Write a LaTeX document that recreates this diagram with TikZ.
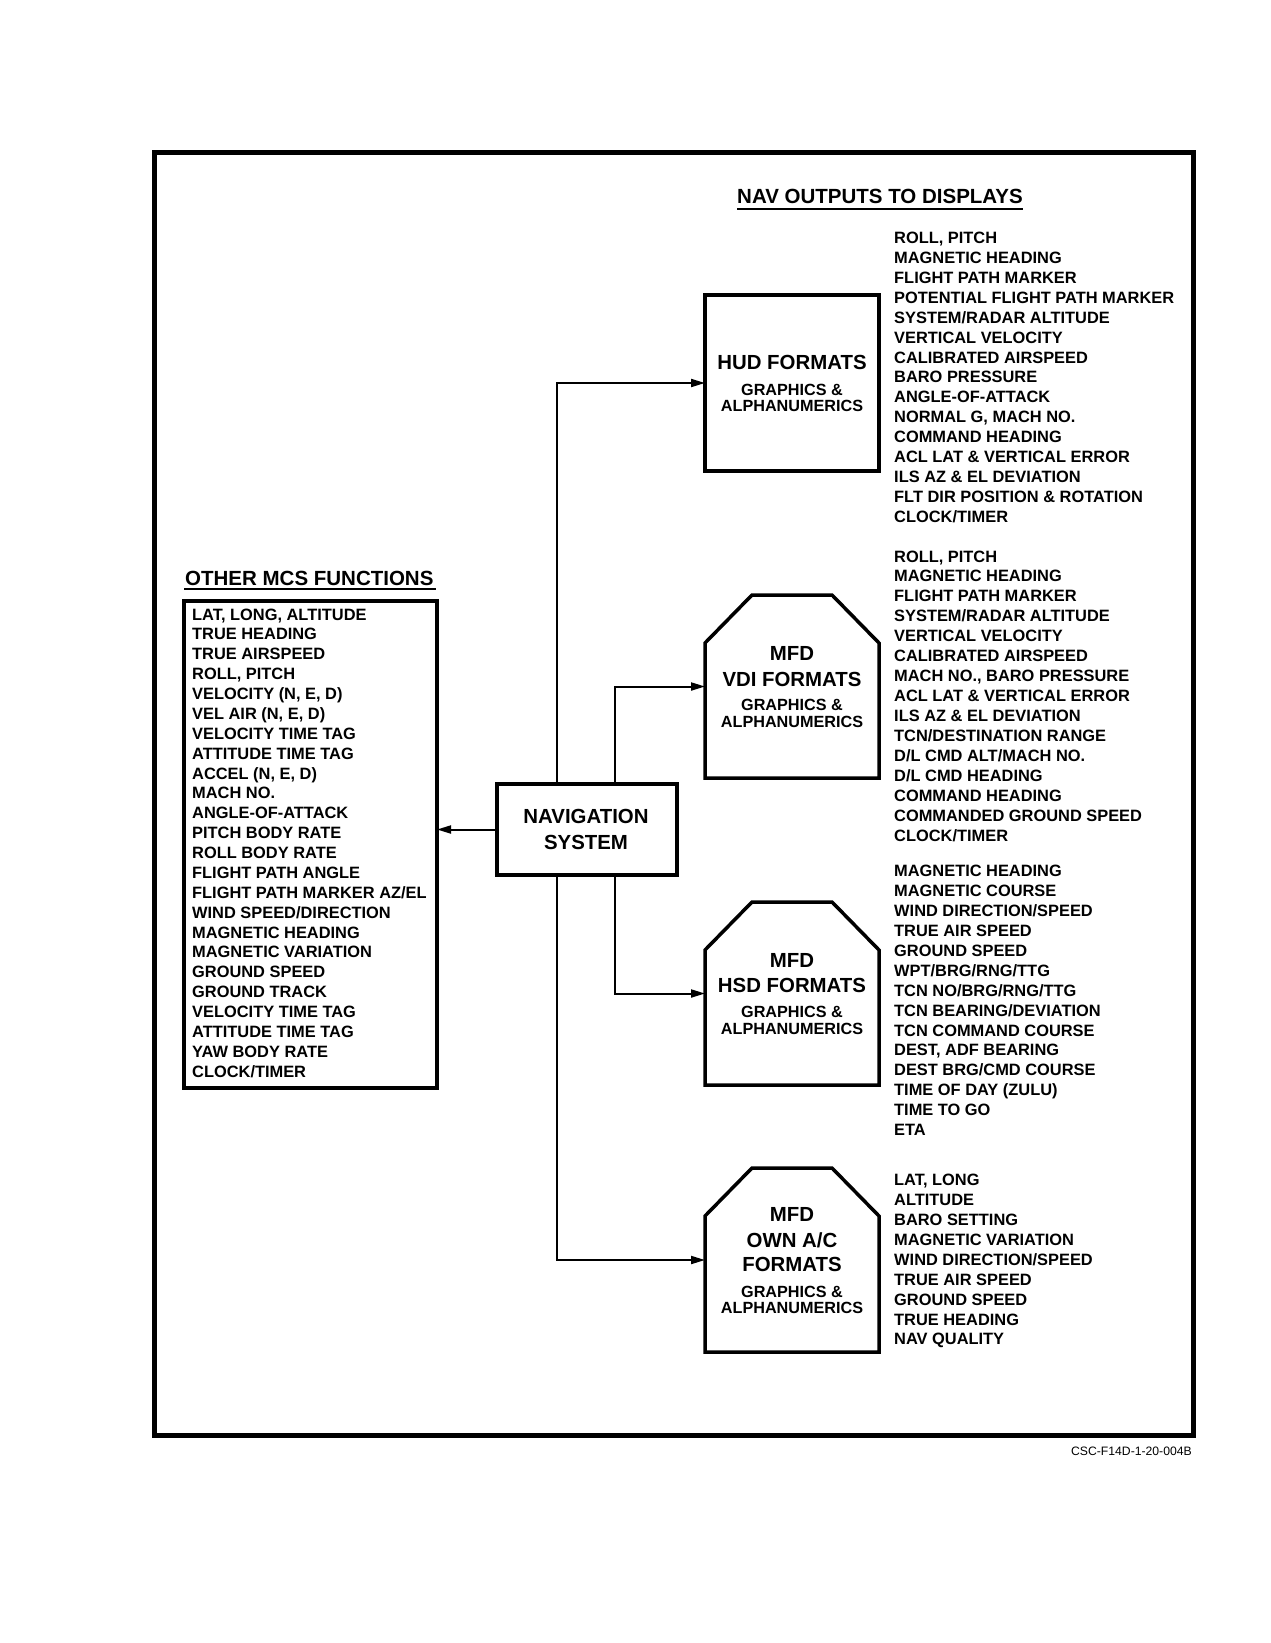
\documentclass[tikz,border=0pt]{standalone}
\usepackage{fontspec}
\setmainfont{Liberation Sans}
\usetikzlibrary{arrows.meta,calc}
\newcommand{\listf}{\fontsize{16.4pt}{19.9pt}\selectfont\bfseries}
\newcommand{\bigf}{\fontsize{20.4pt}{25pt}\selectfont\bfseries}
\newcommand{\smlf}{\fontsize{16.2pt}{17pt}\selectfont\bfseries}
\newcommand{\ttlf}{\fontsize{20.5pt}{25pt}\selectfont\bfseries}
\newcommand{\codef}{\fontsize{12.2pt}{14pt}\selectfont}
\begin{document}
\begin{tikzpicture}[x=1pt,y=-1pt,
  boxnode/.style={draw, line width=3.5pt, fill=white, inner sep=0pt, outer sep=0pt},
  mfdnode/.style={inner sep=0pt, outer sep=0pt, minimum width=174pt},
  mfdline/.style={line width=3.5pt, line join=miter},
  conn/.style={line width=2pt, -{Triangle[length=14pt,width=8pt]}},
  lst/.style={anchor=base west, inner sep=0pt, font=\listf},
  big/.style={anchor=base, inner sep=0pt, font=\bigf},
  sml/.style={anchor=base, inner sep=0pt, font=\smlf},
  ttl/.style={anchor=base west, inner sep=0pt, font=\ttlf},
  uline/.style={line width=2pt}]
\useasboundingbox (0,0) rectangle (1270,1643);
\fill[white] (0,0) rectangle (1270,1643);

% outer frame
\node[draw, line width=5pt, inner sep=0pt, outer sep=0pt,
      minimum width=1039pt, minimum height=1282.5pt] (frame) at (673.5,793.75) {};

% titles
\node[ttl] (navtitle) at (737,203.3) {NAV OUTPUTS TO DISPLAYS};
\draw[uline] ($(navtitle.base west)+(0,5.7)$) -- ($(navtitle.base east)+(0,5.7)$);
\node[ttl] (mcstitle) at (185,585) {OTHER MCS FUNCTIONS};
\draw[uline] ($(mcstitle.base west)+(-1,3.7)$) -- ($(mcstitle.base east)+(2,3.7)$);

% boxes
\node[boxnode, minimum width=174pt, minimum height=176pt] (hud) at (792,383) {};
\node[boxnode, minimum width=180pt, minimum height=91pt] (nav) at (587,829.5) {};
\node[boxnode, minimum width=253pt, minimum height=487pt] (mcs) at (310.5,844.5) {};

\node[mfdnode, minimum height=183pt] (vdi) at (792,686.5) {};
\node[mfdnode, minimum height=183pt] (hsd) at (792,993.5) {};
\node[mfdnode, minimum height=184pt] (own) at (792,1260) {};
\foreach \n in {vdi,hsd,own}{
  \draw[mfdline] (\n.south west) -- ($(\n.north west)+(0,48)$) -- ($(\n.north west)+(47,0)$)
    -- ($(\n.north east)+(-47,0)$) -- ($(\n.north east)+(0,48)$) -- (\n.south east) -- cycle;
}

% box texts
\node[big] (hudt1) at (792,369) {HUD FORMATS};
\node[sml] (hudt2) at (792,395) {GRAPHICS \&};
\node[sml] (hudt3) at (792,411.5) {ALPHANUMERICS};

\node[big] (vdit1) at (792,660.7) {MFD};
\node[big] (vdit2) at (792,686) {VDI FORMATS};
\node[sml] (vdit3) at (792,710.7) {GRAPHICS \&};
\node[sml] (vdit4) at (792,727.3) {ALPHANUMERICS};

\node[big] (hsdt1) at (792,967.3) {MFD};
\node[big] (hsdt2) at (792,992.7) {HSD FORMATS};
\node[sml] (hsdt3) at (792,1017.7) {GRAPHICS \&};
\node[sml] (hsdt4) at (792,1034.3) {ALPHANUMERICS};

\node[big] (ownt1) at (792,1221.7) {MFD};
\node[big] (ownt2) at (792,1247.3) {OWN A/C};
\node[big] (ownt3) at (792,1271.7) {FORMATS};
\node[sml] (ownt4) at (792,1297.3) {GRAPHICS \&};
\node[sml] (ownt5) at (792,1313.3) {ALPHANUMERICS};

\node[big] (navt1) at (586,823.3) {NAVIGATION};
\node[big] (navt2) at (586,849.3) {SYSTEM};

% connectors
\coordinate (na) at ($(nav.north west)+(60,0)$);
\coordinate (nb) at ($(nav.north west)+(118,0)$);
\coordinate (sa) at ($(nav.south west)+(60,0)$);
\coordinate (sb) at ($(nav.south west)+(118,0)$);
\draw[conn] (na) |- (hud.west);
\draw[conn] (nb) |- (vdi.west);
\draw[conn] (sb) |- (hsd.west);
\draw[conn] (sa) |- (own.west);
\draw[conn] (nav.west) -- (nav.west -| mcs.east);

% lists
\foreach \t [count=\i from 0] in {{LAT, LONG, ALTITUDE},TRUE HEADING,TRUE AIRSPEED,{ROLL, PITCH},
  {VELOCITY (N, E, D)},{VEL AIR (N, E, D)},VELOCITY TIME TAG,ATTITUDE TIME TAG,{ACCEL (N, E, D)},
  MACH NO.,ANGLE-OF-ATTACK,PITCH BODY RATE,ROLL BODY RATE,FLIGHT PATH ANGLE,
  FLIGHT PATH MARKER AZ/EL,WIND SPEED/DIRECTION,MAGNETIC HEADING,MAGNETIC VARIATION,
  GROUND SPEED,GROUND TRACK,VELOCITY TIME TAG,ATTITUDE TIME TAG,YAW BODY RATE,CLOCK/TIMER}
  \node[lst] (mcsl\i) at (192,{620+\i*19.88}) {\t};

\foreach \t [count=\i from 0] in {{ROLL, PITCH},MAGNETIC HEADING,FLIGHT PATH MARKER,
  POTENTIAL FLIGHT PATH MARKER,SYSTEM/RADAR ALTITUDE,VERTICAL VELOCITY,CALIBRATED AIRSPEED,
  BARO PRESSURE,ANGLE-OF-ATTACK,{NORMAL G, MACH NO.},COMMAND HEADING,
  ACL LAT \& VERTICAL ERROR,ILS AZ \& EL DEVIATION,FLT DIR POSITION \& ROTATION,CLOCK/TIMER}
  \node[lst] (hudl\i) at (894,{243.3+\i*19.95}) {\t};

\foreach \t [count=\i from 0] in {{ROLL, PITCH},MAGNETIC HEADING,FLIGHT PATH MARKER,
  SYSTEM/RADAR ALTITUDE,VERTICAL VELOCITY,CALIBRATED AIRSPEED,{MACH NO., BARO PRESSURE},
  ACL LAT \& VERTICAL ERROR,ILS AZ \& EL DEVIATION,TCN/DESTINATION RANGE,
  D/L CMD ALT/MACH NO.,D/L CMD HEADING,COMMAND HEADING,COMMANDED GROUND SPEED,CLOCK/TIMER}
  \node[lst] (vdil\i) at (894,{562+\i*19.98}) {\t};

\foreach \t [count=\i from 0] in {MAGNETIC HEADING,MAGNETIC COURSE,WIND DIRECTION/SPEED,
  TRUE AIR SPEED,GROUND SPEED,WPT/BRG/RNG/TTG,TCN NO/BRG/RNG/TTG,TCN BEARING/DEVIATION,
  TCN COMMAND COURSE,{DEST, ADF BEARING},DEST BRG/CMD COURSE,TIME OF DAY (ZULU),
  TIME TO GO,ETA}
  \node[lst] (hsdl\i) at (894,{876.7+\i*19.92}) {\t};

\foreach \t [count=\i from 0] in {{LAT, LONG},ALTITUDE,BARO SETTING,MAGNETIC VARIATION,
  WIND DIRECTION/SPEED,TRUE AIR SPEED,GROUND SPEED,TRUE HEADING,NAV QUALITY}
  \node[lst] (ownl\i) at (894,{1185.7+\i*19.9}) {\t};

\node[anchor=base east, inner sep=0pt, font=\codef] (code) at (1192,1455) {CSC-F14D-1-20-004B};
\end{tikzpicture}
\end{document}
